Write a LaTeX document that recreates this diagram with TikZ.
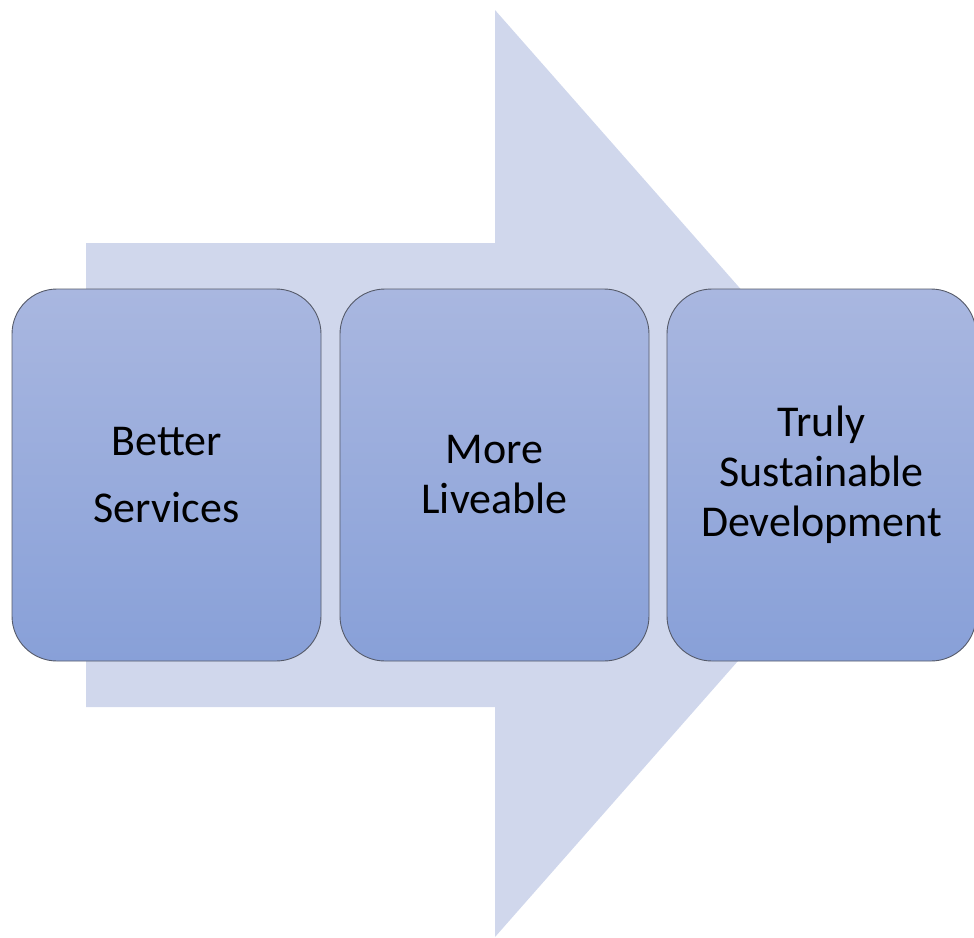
\documentclass[tikz,border=0pt]{standalone}
\usepackage{fontspec}
\setmainfont{Carlito}
\definecolor{arrowfill}{RGB}{208,215,236}
\definecolor{boxtop}{RGB}{169,183,224}
\definecolor{boxbot}{RGB}{136,160,216}
\definecolor{boxline}{RGB}{85,90,105}
\begin{document}
\begin{tikzpicture}[x=1pt,y=-1pt,
  stagebox/.style={draw=boxline, line width=0.9pt, rounded corners=45pt,
    top color=boxtop, bottom color=boxbot, minimum width=309pt, minimum height=372pt,
    inner sep=0pt, align=center, text=black, font=\fontsize{44}{50}\selectfont}]
\useasboundingbox (0,0) rectangle (974,937);
\fill[arrowfill] (86,243) -- (495,243) -- (495,10) -- (903,473.5) -- (495,937) -- (495,707) -- (86,707) -- cycle;
\node[stagebox] (b1) at (166.5,475) {Better\\[17pt]Services};
\node[stagebox] (b2) at (494.5,475) {More\\Liveable};
\node[stagebox] (b3) at (821.5,475) {Truly\\Sustainable\\Development};
\end{tikzpicture}
\end{document}
